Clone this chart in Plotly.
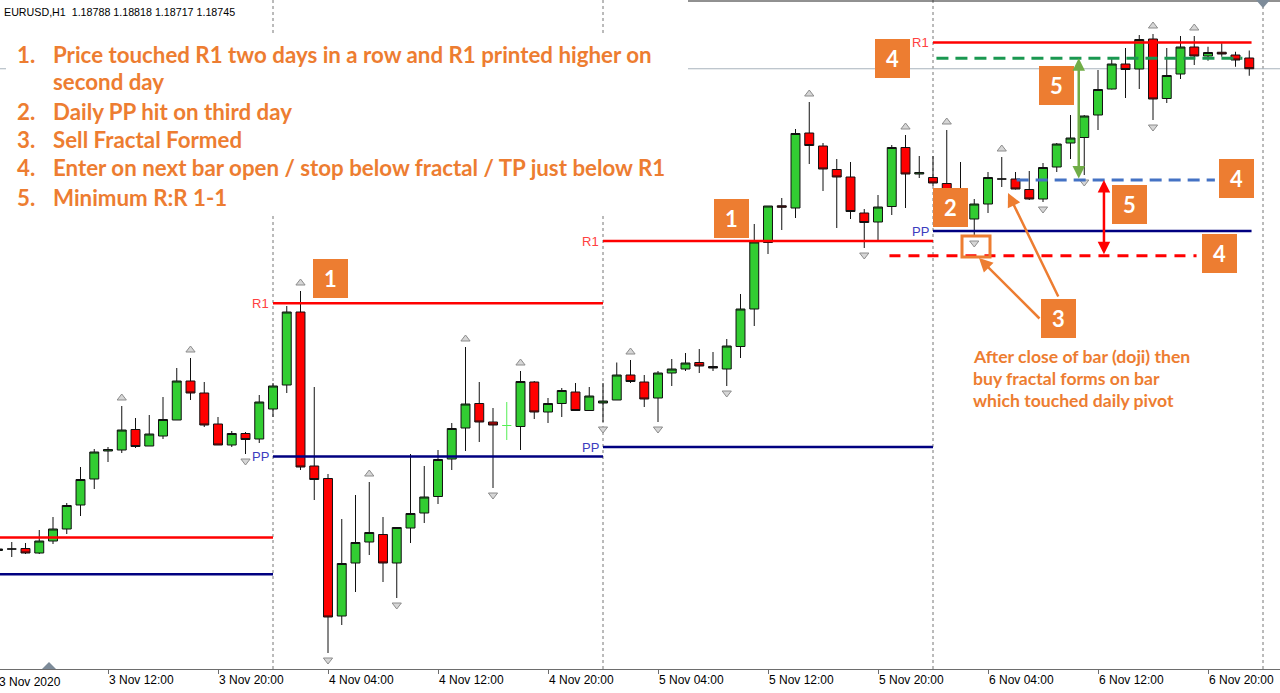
import pandas as pd
import plotly.graph_objects as go

# ---------------- data ----------------
symbol = "EURUSD,H1"
start_time = "2020-11-03 04:00"

opens = [1.16818, 1.16824, 1.16826, 1.16808, 1.16856, 1.16904, 1.17000, 1.17104, 1.17216, 1.17220,
         1.17302, 1.17236, 1.17276, 1.17340, 1.17496, 1.17448, 1.17324, 1.17240, 1.17286, 1.17264,
         1.17384, 1.17480, 1.17772, 1.17156, 1.17106, 1.16556, 1.16768, 1.16852, 1.16882, 1.16768,
         1.16908, 1.16968, 1.17034, 1.17184, 1.17308, 1.17406, 1.17332, 1.17318, 1.17314, 1.17492,
         1.17372, 1.17406, 1.17452, 1.17378, 1.17408, 1.17420, 1.17520, 1.17492, 1.17428, 1.17528,
         1.17544, 1.17570, 1.17554, 1.17544, 1.17634, 1.17784, 1.18050, 1.18197, 1.18188, 1.18488,
         1.18436, 1.18342, 1.18312, 1.18168, 1.18132, 1.18194, 1.18430, 1.18324, 1.18310, 1.18286,
         1.18240, 1.18144, 1.18204, 1.18304, 1.18304, 1.18262, 1.18224, 1.18352, 1.18448, 1.18470,
         1.18560, 1.18664, 1.18764, 1.18744, 1.18864, 1.18626, 1.18724, 1.18832, 1.18796, 1.18811,
         1.18800, 1.18788]
highs = [1.16828, 1.16852, 1.16848, 1.16900, 1.16952, 1.17008, 1.17152, 1.17224, 1.17232, 1.17396,
         1.17348, 1.17360, 1.17432, 1.17548, 1.17588, 1.17492, 1.17352, 1.17296, 1.17292, 1.17440,
         1.17488, 1.17796, 1.17856, 1.17472, 1.17124, 1.16944, 1.17040, 1.17092, 1.16952, 1.16912,
         1.17204, 1.17156, 1.17220, 1.17328, 1.17632, 1.17492, 1.17388, 1.17412, 1.17536, 1.17496,
         1.17428, 1.17468, 1.17488, 1.17472, 1.17488, 1.17570, 1.17580, 1.17520, 1.17536, 1.17584,
         1.17608, 1.17624, 1.17612, 1.17664, 1.17844, 1.18124, 1.18196, 1.18228, 1.18504, 1.18612,
         1.18448, 1.18384, 1.18372, 1.18184, 1.18240, 1.18440, 1.18480, 1.18396, 1.18396, 1.18500,
         1.18372, 1.18224, 1.18332, 1.18392, 1.18332, 1.18336, 1.18368, 1.18448, 1.18560, 1.18560,
         1.18740, 1.18788, 1.18828, 1.18880, 1.18884, 1.18828, 1.18876, 1.18876, 1.18833, 1.18847,
         1.18813, 1.18818]
lows = [1.16812, 1.16792, 1.16804, 1.16804, 1.16844, 1.16884, 1.16956, 1.17064, 1.17172, 1.17208,
        1.17228, 1.17236, 1.17264, 1.17340, 1.17420, 1.17312, 1.17240, 1.17232, 1.17204, 1.17248,
        1.17352, 1.17448, 1.17140, 1.17020, 1.16408, 1.16520, 1.16652, 1.16800, 1.16692, 1.16628,
        1.16848, 1.16928, 1.17004, 1.17140, 1.17216, 1.17252, 1.17068, 1.17260, 1.17220, 1.17344,
        1.17328, 1.17352, 1.17376, 1.17376, 1.17332, 1.17420, 1.17488, 1.17392, 1.17332, 1.17476,
        1.17536, 1.17528, 1.17536, 1.17476, 1.17588, 1.17716, 1.18004, 1.18100, 1.18148, 1.18364,
        1.18256, 1.18108, 1.18144, 1.18028, 1.18060, 1.18160, 1.18188, 1.18308, 1.18276, 1.18220,
        1.18148, 1.18076, 1.18168, 1.18272, 1.18262, 1.18220, 1.18212, 1.18332, 1.18384, 1.18320,
        1.18500, 1.18662, 1.18628, 1.18664, 1.18540, 1.18608, 1.18704, 1.18760, 1.18777, 1.18793,
        1.18753, 1.18717]
closes = [1.16824, 1.16824, 1.16808, 1.16856, 1.16904, 1.16998, 1.17102, 1.17212, 1.17222, 1.17300,
          1.17234, 1.17284, 1.17342, 1.17496, 1.17448, 1.17320, 1.17240, 1.17286, 1.17262, 1.17412,
          1.17476, 1.17772, 1.17152, 1.17102, 1.16552, 1.16766, 1.16850, 1.16890, 1.16768, 1.16910,
          1.16966, 1.17032, 1.17182, 1.17306, 1.17404, 1.17332, 1.17320, 1.17318, 1.17494, 1.17372,
          1.17406, 1.17458, 1.17378, 1.17436, 1.17416, 1.17520, 1.17494, 1.17424, 1.17528, 1.17544,
          1.17568, 1.17556, 1.17548, 1.17636, 1.17784, 1.18052, 1.18196, 1.18191, 1.18486, 1.18438,
          1.18344, 1.18312, 1.18174, 1.18130, 1.18192, 1.18430, 1.18324, 1.18330, 1.18288, 1.18240,
          1.18180, 1.18204, 1.18310, 1.18304, 1.18264, 1.18224, 1.18350, 1.18444, 1.18468, 1.18556,
          1.18662, 1.18764, 1.18742, 1.18862, 1.18624, 1.18718, 1.18832, 1.18796, 1.18810, 1.18804,
          1.18780, 1.18745]

# bar indices carrying a Bill Williams fractal
up_fractals = [9, 14, 22, 27, 34, 38, 46, 59, 66, 69, 73, 84, 87]
down_fractals = [18, 24, 29, 36, 44, 48, 53, 63, 71, 76, 79, 84]
highlight_doji = [37]

# daily pivot levels
day_starts = ["2020-11-03", "2020-11-04", "2020-11-05", "2020-11-06"]
day_ends = ["2020-11-04", "2020-11-05", "2020-11-06", "2020-11-06 23:10"]
r1_levels = [1.16870, 1.17807, 1.18056, 1.18850]
pp_levels = [1.16723, 1.17194, 1.17232, 1.18096]
separators = ["2020-11-04", "2020-11-05", "2020-11-06", "2020-11-07"]

# trade levels
tp_level = 1.18787
entry_level = 1.18300
stop_level = 1.17997
tp_span = ["2020-11-06 00:15", "2020-11-06 22:30"]
entry_span = ["2020-11-06 06:05", "2020-11-06 20:30"]
stop_span = ["2020-11-05 20:50", "2020-11-06 19:10"]
reward_arrow_time = "2020-11-06 10:36"
risk_arrow_time = "2020-11-06 12:26"

tick_times = ["2020-11-03 12:00", "2020-11-03 20:00", "2020-11-04 04:00", "2020-11-04 12:00",
              "2020-11-04 20:00", "2020-11-05 04:00", "2020-11-05 12:00", "2020-11-05 20:00",
              "2020-11-06 04:00", "2020-11-06 12:00", "2020-11-06 20:00"]
tick_text = ["3 Nov 12:00", "3 Nov 20:00", "4 Nov 04:00", "4 Nov 12:00", "4 Nov 20:00",
             "5 Nov 04:00", "5 Nov 12:00", "5 Nov 20:00", "6 Nov 04:00", "6 Nov 12:00", "6 Nov 20:00"]
first_label = "3 Nov 2020"

rules_numbers = ["1.", "", "2.", "3.", "4.", "5."]
rules_text = ["Price touched R1 two days in a row and R1 printed higher on",
              "second day",
              "Daily PP hit on third day",
              "Sell Fractal Formed",
              "Enter on next bar open / stop below fractal / TP just below R1",
              "Minimum R:R 1-1"]
note_lines = ["After close of bar (doji) then", "buy fractal forms on bar", "which touched daily pivot"]

# ---------------- figure ----------------
times = pd.date_range(start_time, periods=len(opens), freq="h")
W, PH = 1280, 669  # plot-area size in pixels
ORANGE = "#ed7d31"


def px(x):
    return x / W


def py(y):
    return (PH - y) / PH


fig = go.Figure()

# main candles (neutral highlighted doji drawn separately)
o_main = [None if i in highlight_doji else v for i, v in enumerate(opens)]
h_main = [None if i in highlight_doji else v for i, v in enumerate(highs)]
l_main = [None if i in highlight_doji else v for i, v in enumerate(lows)]
c_main = [None if i in highlight_doji else v for i, v in enumerate(closes)]
fig.add_trace(go.Candlestick(
    x=times, open=o_main, high=h_main, low=l_main, close=c_main,
    increasing=dict(fillcolor="#32cd32", line=dict(color="#111111", width=1)),
    decreasing=dict(fillcolor="#ff0000", line=dict(color="#111111", width=1)),
    hoverinfo="skip", showlegend=False))

# highlighted doji cross
dx, dy = [], []
half = pd.Timedelta(minutes=20)
for i in highlight_doji:
    t = times[i]
    dx += [t, t, None, t - half, t + half, None]
    dy += [highs[i], lows[i], None, opens[i], opens[i], None]
fig.add_trace(go.Scatter(x=dx, y=dy, mode="lines", line=dict(color="#55ee55", width=1),
                         hoverinfo="skip", showlegend=False))

# pivot lines
rx, ry, ppx, ppy = [], [], [], []
for s, e, r, p in zip(day_starts, day_ends, r1_levels, pp_levels):
    rx += [s, e, None]
    ry += [r, r, None]
    ppx += [s, e, None]
    ppy += [p, p, None]
fig.add_trace(go.Scatter(x=rx, y=ry, mode="lines", line=dict(color="#ff0000", width=2.5),
                         hoverinfo="skip", showlegend=False))
fig.add_trace(go.Scatter(x=ppx, y=ppy, mode="lines", line=dict(color="#000080", width=2.5),
                         hoverinfo="skip", showlegend=False))

# fractals
fig.add_trace(go.Scatter(
    x=[times[i] for i in up_fractals], y=[highs[i] + 0.00032 for i in up_fractals],
    mode="markers", marker=dict(symbol="triangle-up", size=8, color="#d6d6d6",
                                line=dict(color="#8c8c8c", width=1)),
    hoverinfo="skip", showlegend=False))
fig.add_trace(go.Scatter(
    x=[times[i] for i in down_fractals], y=[lows[i] - 0.00028 for i in down_fractals],
    mode="markers", marker=dict(symbol="triangle-down", size=8, color="#d6d6d6",
                                line=dict(color="#8c8c8c", width=1)),
    hoverinfo="skip", showlegend=False))

# trade level dashed lines
for span, lvl, col, dash in [(tp_span, tp_level, "#1a9850", "12px,7px"),
                             (entry_span, entry_level, "#4472c4", "12px,7px"),
                             (stop_span, stop_level, "#ff0000", "11px,8px")]:
    fig.add_trace(go.Scatter(x=span, y=[lvl, lvl], mode="lines",
                             line=dict(color=col, width=3, dash=dash),
                             hoverinfo="skip", showlegend=False))

shapes = []
# period separators
for s in separators:
    shapes.append(dict(type="line", xref="x", yref="paper", x0=s, x1=s, y0=0, y1=1, layer="below",
                       line=dict(color="#777777", width=1, dash="dot")))
# bid line
shapes.append(dict(type="line", xref="paper", yref="y", x0=0, x1=1, y0=closes[-1], y1=closes[-1],
                   layer="below", line=dict(color="#a9b3bd", width=1)))
# white background of the rules text
shapes.append(dict(type="rect", xref="paper", yref="paper", x0=px(6), x1=px(688), y0=py(216), y1=py(33),
                   layer="above", fillcolor="white", line=dict(width=0)))
# top border
shapes.append(dict(type="line", xref="paper", yref="paper", x0=px(688), x1=1, y0=py(1), y1=py(1),
                   layer="above", line=dict(color="#222222", width=1)))
# chart shift markers
shapes.append(dict(type="path", xref="paper", yref="paper", layer="above",
                   path=f"M {px(42)} {py(669)} L {px(56)} {py(669)} L {px(49)} {py(662)} Z",
                   fillcolor="#7d8b99", line=dict(width=0)))
shapes.append(dict(type="path", xref="paper", yref="paper", layer="above",
                   path=f"M {px(1256)} {py(0)} L {px(1270)} {py(0)} L {px(1263)} {py(8)} Z",
                   fillcolor="#7d8b99", line=dict(width=0)))
# highlighted fractal box
shapes.append(dict(type="rect", xref="paper", yref="paper", x0=px(962), x1=px(990), y0=py(257), y1=py(236),
                   layer="above", line=dict(color=ORANGE, width=3)))

ann = []
# pivot labels
for s, r, p in zip(day_starts[1:], r1_levels[1:], pp_levels[1:]):
    ann.append(dict(x=s, y=r, xref="x", yref="y", text="R1", showarrow=False, xanchor="right",
                    yanchor="middle", xshift=-2, font=dict(family="Liberation Sans", size=13, color="#ff4040")))
    ann.append(dict(x=s, y=p, xref="x", yref="y", text="PP", showarrow=False, xanchor="right",
                    yanchor="middle", xshift=-2, font=dict(family="Liberation Sans", size=13, color="#3c3cbe")))

# title
ann.append(dict(x=px(3), y=py(12), xref="paper", yref="paper", xanchor="left", yanchor="middle",
                showarrow=False, xshift=-1,
                text=f"{symbol}&nbsp; {opens[-1]:.5f} {highs[-1]:.5f} {lows[-1]:.5f} {closes[-1]:.5f}",
                font=dict(family="Liberation Sans", size=10.7, color="#000000")))

# first date label
ann.append(dict(x=0, y=0, xref="paper", yref="paper", xanchor="left", yanchor="top", xshift=-3, yshift=-4,
                showarrow=False, text=first_label, font=dict(family="Liberation Sans", size=12, color="#000")))

# rules text
rule_y = [54, 82, 111, 140, 168, 197]
for n, t, yy in zip(rules_numbers, rules_text, rule_y):
    if n:
        ann.append(dict(x=px(17), y=py(yy), xref="paper", yref="paper", xanchor="left", yanchor="middle",
                        showarrow=False, text=f"<b>{n}</b>", xshift=-2,
                        font=dict(family="Lato", size=22.3, color=ORANGE)))
    ann.append(dict(x=px(53), y=py(yy), xref="paper", yref="paper", xanchor="left", yanchor="middle",
                    showarrow=False, text=f"<b>{t}</b>", xshift=-2,
                    font=dict(family="Lato", size=22.3, color=ORANGE)))

# note text
for t, yy in zip(note_lines, [356, 378, 400]):
    ann.append(dict(x=px(973), y=py(yy), xref="paper", yref="paper", xanchor="left", yanchor="middle",
                    showarrow=False, text=f"<b>{t}</b>", xshift=-2,
                    font=dict(family="Lato", size=17.6, color=ORANGE)))

# numbered boxes
boxes = [("1", 330, 278), ("1", 731.5, 218.5), ("2", 950.5, 207.5), ("4", 892.5, 58.5),
         ("5", 1056.5, 85.5), ("4", 1236.5, 178.5), ("5", 1129.5, 205), ("4", 1219.5, 253),
         ("3", 1058.5, 318.5)]
for lab, bx, by in boxes:
    ann.append(dict(x=px(bx), y=py(by), xref="paper", yref="paper", xanchor="center", yanchor="middle",
                    showarrow=False, text=f"<b>{lab}</b>", width=35, height=39, bgcolor=ORANGE,
                    borderpad=0, borderwidth=0, align="center", valign="middle",
                    font=dict(family="Lato", size=22, color="white")))

# orange pointer arrows from box 3
for hx, hy, tx, ty in [(979, 258, 1041, 320), (1008, 193, 1059, 298)]:
    ann.append(dict(x=px(hx), y=py(hy), xref="paper", yref="paper", ax=tx - hx, ay=ty - hy,
                    text="", showarrow=True, arrowhead=2, arrowsize=1.1, arrowwidth=2.5,
                    arrowcolor=ORANGE, standoff=0))

# reward / risk double arrows
ann.append(dict(x=reward_arrow_time, y=tp_level, xref="x", yref="y", ax=reward_arrow_time, ay=entry_level,
                axref="x", ayref="y", text="", showarrow=True, arrowhead=2, arrowside="end+start",
                arrowsize=1, arrowwidth=2.5, arrowcolor="#70ad47"))
ann.append(dict(x=risk_arrow_time, y=entry_level, xref="x", yref="y", ax=risk_arrow_time, ay=stop_level,
                axref="x", ayref="y", text="", showarrow=True, arrowhead=2, arrowside="end+start",
                arrowsize=1, arrowwidth=2.5, arrowcolor="#ff0000"))

fig.update_layout(
    width=1280, height=693, margin=dict(l=0, r=0, t=0, b=24),
    plot_bgcolor="white", paper_bgcolor="white", showlegend=False,
    boxgap=0.35, boxgroupgap=0,
    shapes=shapes, annotations=ann,
    xaxis=dict(type="date", range=["2020-11-03 04:08:44", "2020-11-07 01:14:10"],
               rangeslider=dict(visible=False), showgrid=False, zeroline=False,
               showline=True, linecolor="#6d6d6d", linewidth=1,
               ticks="outside", ticklen=4, tickcolor="#6d6d6d",
               tickvals=tick_times, ticktext=tick_text, ticklabelposition="outside right",
               tickfont=dict(family="Liberation Sans", size=12, color="#000000")),
    yaxis=dict(range=[1.16344, 1.19020], visible=False, showgrid=False, zeroline=False),
)

fig.write_html("out.html")
